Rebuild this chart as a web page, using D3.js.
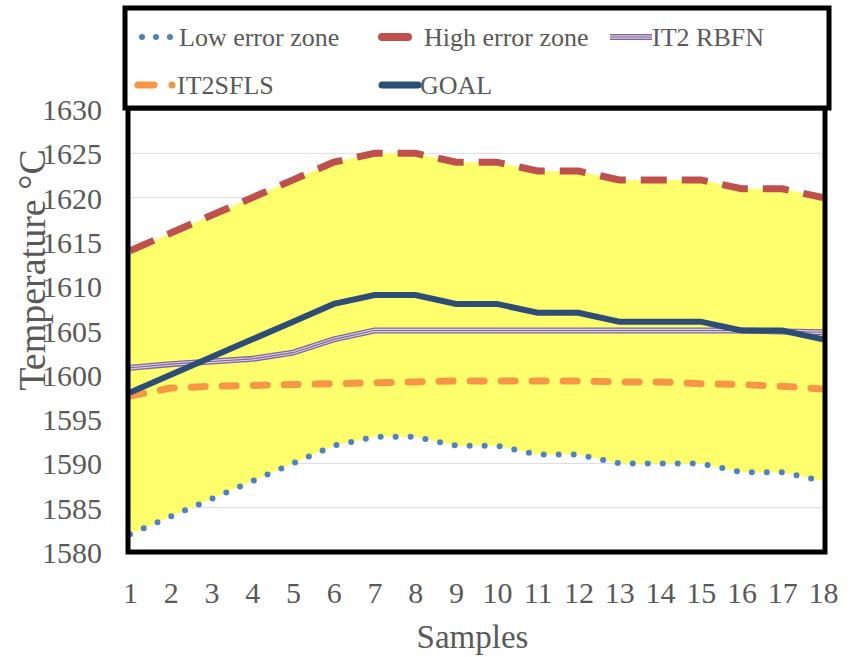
<!DOCTYPE html>
<html>
<head>
<meta charset="utf-8">
<script src="https://cdn.jsdelivr.net/npm/d3@7"></script>
<style>
  body { margin: 0; background: #fff; }
  text { font-family: "Liberation Serif", "Times New Roman", serif; fill: #595959; }
</style>
</head>
<body>
<div id="chart"></div>
<script>
// data
var samples = d3.range(1, 19);
var lowZone  = [1582, 1584, 1586, 1588, 1590, 1592, 1593, 1593, 1592, 1592, 1591, 1591, 1590, 1590, 1590, 1589, 1589, 1588];
var highZone = [1614, 1616, 1618, 1620, 1622, 1624, 1625, 1625, 1624, 1624, 1623, 1623, 1622, 1622, 1622, 1621, 1621, 1620];
var rbfn     = [1600.8, 1601.2, 1601.5, 1601.8, 1602.5, 1604, 1605, 1605, 1605, 1605, 1605, 1605, 1605, 1605, 1605, 1605, 1604.9, 1604.8];
var sfls     = [1597.6, 1598.5, 1598.7, 1598.8, 1598.9, 1599.0, 1599.1, 1599.2, 1599.3, 1599.3, 1599.3, 1599.3, 1599.2, 1599.2, 1599.0, 1598.9, 1598.7, 1598.4];
var goal     = [1598, 1600, 1602, 1604, 1606, 1608, 1609, 1609, 1608, 1608, 1607, 1607, 1606, 1606, 1606, 1605, 1605, 1604];
var yTicks = d3.range(1580, 1631, 5);

var svgWidth = 857;
var svgHeight = 657;
var margin = { top: 109, right: 34, bottom: 105, left: 130 };
var width = svgWidth - margin.left - margin.right;
var height = svgHeight - margin.top - margin.bottom;

var svg = d3.select("#chart")
    .append("svg")
    .attr("width", svgWidth)
    .attr("height", svgHeight);

var x = d3.scaleLinear().domain([1, 18]).range([0, width]);
var y = d3.scaleLinear().domain([1580, 1630]).range([height, 0]);

var chartGroup = svg.append("g")
    .attr("transform", `translate(${margin.left}, ${margin.top})`);

svg.append("defs").append("clipPath").attr("id", "clip")
    .append("rect").attr("width", width).attr("height", height);

// gridlines
chartGroup.append("g")
    .selectAll("line")
    .data(yTicks.slice(1, -1))
    .enter()
    .append("line")
    .attr("x1", 0).attr("x2", width)
    .attr("y1", d => y(d)).attr("y2", d => y(d))
    .attr("stroke", "#dcdcdc").attr("stroke-width", 1);

// yellow band between the error zones
var band = d3.area()
    .x((d, i) => x(samples[i]))
    .y0((d, i) => y(lowZone[i]))
    .y1((d, i) => y(highZone[i]));

var plot = chartGroup.append("g").attr("clip-path", "url(#clip)");

plot.append("path")
    .datum(samples)
    .attr("d", band)
    .attr("fill", "#ffff6e");

var line = d3.line().x((d, i) => x(samples[i])).y(d => y(d));

plot.append("path").datum(lowZone).attr("d", line)
    .attr("fill", "none").attr("stroke", "#4f81bd").attr("stroke-width", 6)
    .attr("stroke-linecap", "round").attr("stroke-dasharray", "0 15");

plot.append("path").datum(highZone).attr("d", line)
    .attr("fill", "none").attr("stroke", "#c0504d").attr("stroke-width", 7)
    .attr("stroke-dasharray", "26 15");

// compound line for IT2 RBFN
plot.append("path").datum(rbfn).attr("d", line)
    .attr("fill", "none").attr("stroke", "#8064a2").attr("stroke-width", 6);
plot.append("path").datum(rbfn).attr("d", line)
    .attr("fill", "none").attr("stroke", "#d8d0d8").attr("stroke-width", 3.4);
plot.append("path").datum(rbfn).attr("d", line)
    .attr("fill", "none").attr("stroke", "#8064a2").attr("stroke-width", 1.1);

plot.append("path").datum(sfls).attr("d", line)
    .attr("fill", "none").attr("stroke", "#f79646").attr("stroke-width", 7)
    .attr("stroke-linecap", "round").attr("stroke-dasharray", "14 17");

plot.append("path").datum(goal).attr("d", line)
    .attr("fill", "none").attr("stroke", "#2c4d75").attr("stroke-width", 6);

// axes
var leftAxis = d3.axisLeft(y).tickValues(yTicks).tickFormat(d3.format("d")).tickSize(0).tickPadding(28);
var yAxis = chartGroup.append("g").call(leftAxis);
yAxis.select(".domain").remove();
yAxis.selectAll("text").style("font-size", "30px").attr("dy", "0.35em");

var bottomAxis = d3.axisBottom(x).tickValues(samples).tickFormat(d3.format("d")).tickSize(0).tickPadding(45);
var xAxis = chartGroup.append("g")
    .attr("transform", `translate(0, ${height})`)
    .call(bottomAxis);
xAxis.select(".domain").remove();
xAxis.selectAll("text").style("font-size", "30px").attr("dy", "0.2em");

// frame
chartGroup.append("rect")
    .attr("x", -2).attr("y", -1)
    .attr("width", width + 4).attr("height", height + 1)
    .attr("fill", "none").attr("stroke", "#000").attr("stroke-width", 5);

// axis titles
svg.append("text")
    .attr("x", margin.left + width / 2 - 4)
    .attr("y", 648)
    .attr("text-anchor", "middle")
    .style("font-size", "33px")
    .text("Samples");

svg.append("text")
    .attr("transform", "translate(45, 270) rotate(-90)")
    .attr("text-anchor", "middle")
    .style("font-size", "38px")
    .text("Temperature °C");

// legend
var legend = svg.append("g");
legend.append("rect")
    .attr("x", 125).attr("y", 8)
    .attr("width", 704).attr("height", 100)
    .attr("fill", "#fff").attr("stroke", "#000").attr("stroke-width", 5);

var legendItems = [
    { name: "Low error zone", x: 138, y: 37 },
    { name: "High error zone", x: 380, y: 37 },
    { name: "IT2 RBFN", x: 610, y: 37 },
    { name: "IT2SFLS", x: 138, y: 85 },
    { name: "GOAL", x: 380, y: 85 }
];

function sample(g, i) {
    var it = legendItems[i];
    if (i === 0) {
        g.append("path").attr("d", `M${it.x + 4},${it.y}H${it.x + 36}`)
            .attr("stroke", "#4f81bd").attr("stroke-width", 6)
            .attr("stroke-linecap", "round").attr("stroke-dasharray", "0 14");
        return it.x + 41;
    } else if (i === 1) {
        g.append("path").attr("d", `M${it.x + 2},${it.y}H${it.x + 28}`)
            .attr("stroke", "#c0504d").attr("stroke-width", 8).attr("stroke-linecap", "round");
        return it.x + 44;
    } else if (i === 2) {
        var p = `M${it.x},${it.y}H${it.x + 42}`;
        g.append("path").attr("d", p).attr("stroke", "#8064a2").attr("stroke-width", 6);
        g.append("path").attr("d", p).attr("stroke", "#d8d0d8").attr("stroke-width", 3.4);
        g.append("path").attr("d", p).attr("stroke", "#8064a2").attr("stroke-width", 1.1);
        return it.x + 42;
    } else if (i === 3) {
        g.append("path").attr("d", `M${it.x},${it.y}H${it.x + 16}`)
            .attr("stroke", "#f79646").attr("stroke-width", 7).attr("stroke-linecap", "round");
        g.append("path").attr("d", `M${it.x + 34},${it.y}H${it.x + 34}`)
            .attr("stroke", "#f79646").attr("stroke-width", 7).attr("stroke-linecap", "round");
        return it.x + 39;
    } else {
        g.append("path").attr("d", `M${it.x + 2},${it.y}H${it.x + 38}`)
            .attr("stroke", "#2c4d75").attr("stroke-width", 7).attr("stroke-linecap", "round");
        return it.x + 40;
    }
}

legendItems.forEach(function(it, i) {
    var g = legend.append("g");
    var tx = sample(g, i);
    g.append("text")
        .attr("x", tx).attr("y", it.y)
        .attr("dy", "0.33em")
        .style("font-size", "26px")
        .text(it.name);
});
</script>
</body>
</html>
